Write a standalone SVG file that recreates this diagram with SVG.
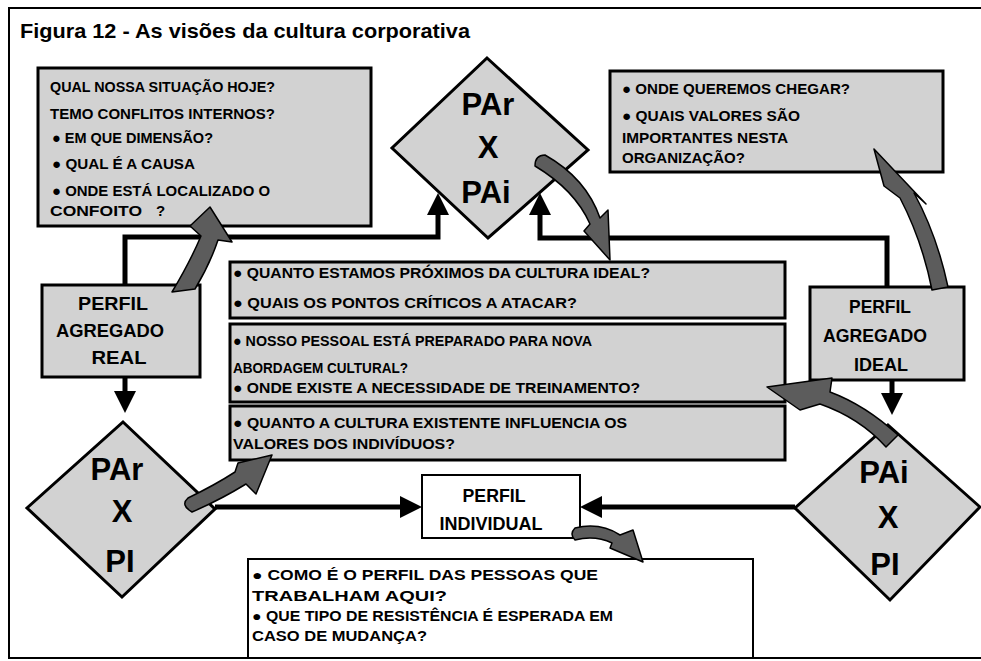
<svg xmlns="http://www.w3.org/2000/svg" width="981" height="661" viewBox="0 0 981 661">
<style>
.t{font-family:"Liberation Sans",Arial,"DejaVu Sans",sans-serif;font-weight:bold;fill:#000}
.q{font-size:15px}
.lb{font-size:18px;text-anchor:middle}
.dm{font-size:31px;text-anchor:middle}
.bx{fill:#d2d2d2;stroke:#000;stroke-width:3}
.wb{fill:#fff;stroke:#000;stroke-width:2}
.con{fill:none;stroke:#000;stroke-width:5;marker-end:url(#ah)}
.ga{fill:#5c5c5c;stroke:#000;stroke-width:1.5;stroke-linejoin:round}
</style>
<defs>
<marker id="ah" markerUnits="userSpaceOnUse" markerWidth="22" markerHeight="22" viewBox="0 0 22 22" refX="0" refY="11" orient="auto">
<path d="M0,0 L22,11 L0,22 z" fill="#000"/>
</marker>
</defs>
<rect width="981" height="661" fill="#fff"/>
<g id="frame" fill="none" stroke="#000" stroke-width="2">
<path d="M981,8 H9 V658 H981"/>
</g>
<text id="title" class="t" x="20" y="38" font-size="21" textLength="450" lengthAdjust="spacingAndGlyphs">Figura 12 - As visões da cultura corporativa</text>

<g id="box-situacao">
<rect class="bx" x="38" y="68" width="333" height="158"/>
<text class="t q" x="50" y="92" textLength="225" lengthAdjust="spacingAndGlyphs">QUAL NOSSA SITUAÇÃO HOJE?</text>
<text class="t q" x="50" y="119" textLength="225" lengthAdjust="spacingAndGlyphs">TEMO CONFLITOS INTERNOS?</text>
<text class="t q" x="52" y="143" textLength="161" lengthAdjust="spacingAndGlyphs">● EM QUE DIMENSÃO?</text>
<text class="t q" x="52" y="169" textLength="143" lengthAdjust="spacingAndGlyphs">● QUAL É A CAUSA</text>
<text class="t q" x="52" y="196" textLength="218" lengthAdjust="spacingAndGlyphs">● ONDE ESTÁ LOCALIZADO O</text>
<text class="t q" x="50" y="216"><tspan textLength="92" lengthAdjust="spacingAndGlyphs">CONFOITO</tspan><tspan x="156">?</tspan></text>
</g>

<g id="box-queremos">
<rect class="bx" x="610" y="71" width="333" height="101"/>
<text class="t q" x="622" y="94" textLength="228" lengthAdjust="spacingAndGlyphs">● ONDE QUEREMOS CHEGAR?</text>
<text class="t q" x="622" y="121" textLength="178" lengthAdjust="spacingAndGlyphs">● QUAIS VALORES SÃO</text>
<text class="t q" x="622" y="143" textLength="166" lengthAdjust="spacingAndGlyphs">IMPORTANTES NESTA</text>
<text class="t q" x="622" y="163" textLength="123" lengthAdjust="spacingAndGlyphs">ORGANIZAÇÃO?</text>
</g>

<g id="diamond-par-pai">
<polygon class="bx" points="487,58 588,150 488,238 392,148"/>
<text class="t dm" x="488" y="115">PAr</text>
<text class="t dm" x="488" y="158">X</text>
<text class="t dm" x="486" y="203">PAi</text>
</g>

<g id="box-cultura-ideal">
<rect class="bx" x="230" y="262" width="555" height="56"/>
<text class="t q" x="233" y="278" textLength="417" lengthAdjust="spacingAndGlyphs">● QUANTO ESTAMOS PRÓXIMOS DA CULTURA IDEAL?</text>
<text class="t q" x="233" y="308" textLength="344" lengthAdjust="spacingAndGlyphs">● QUAIS OS PONTOS CRÍTICOS A ATACAR?</text>
</g>

<g id="box-treinamento">
<rect class="bx" x="230" y="324" width="555" height="78"/>
<text class="t q" x="233" y="346" textLength="359" lengthAdjust="spacingAndGlyphs">● NOSSO PESSOAL ESTÁ PREPARADO PARA NOVA</text>
<text class="t q" x="233" y="373" textLength="175" lengthAdjust="spacingAndGlyphs">ABORDAGEM CULTURAL?</text>
<text class="t q" x="233" y="393" textLength="407" lengthAdjust="spacingAndGlyphs">● ONDE EXISTE A NECESSIDADE DE TREINAMENTO?</text>
</g>

<g id="box-influencia">
<rect class="bx" x="230" y="406" width="555" height="54"/>
<text class="t q" x="233" y="428" textLength="394" lengthAdjust="spacingAndGlyphs">● QUANTO A CULTURA EXISTENTE INFLUENCIA OS</text>
<text class="t q" x="233" y="449" textLength="222" lengthAdjust="spacingAndGlyphs">VALORES DOS INDIVÍDUOS?</text>
</g>

<g id="perfil-agregado-real">
<rect class="bx" x="42" y="285" width="158" height="92"/>
<text class="t lb" x="113" y="310" textLength="70" lengthAdjust="spacingAndGlyphs">PERFIL</text>
<text class="t lb" x="110" y="337" textLength="108" lengthAdjust="spacingAndGlyphs">AGREGADO</text>
<text class="t lb" x="119" y="364" textLength="55" lengthAdjust="spacingAndGlyphs">REAL</text>
</g>

<g id="perfil-agregado-ideal">
<rect class="bx" x="810" y="287" width="154" height="93"/>
<text class="t lb" x="880" y="313" textLength="62" lengthAdjust="spacingAndGlyphs">PERFIL</text>
<text class="t lb" x="875" y="342" textLength="104" lengthAdjust="spacingAndGlyphs">AGREGADO</text>
<text class="t lb" x="881" y="371" textLength="54" lengthAdjust="spacingAndGlyphs">IDEAL</text>
</g>

<g id="diamond-par-pi">
<polygon class="bx" points="123,422 215,509 122,597 27,508"/>
<text class="t dm" x="117" y="480">PAr</text>
<text class="t dm" x="122" y="522">X</text>
<text class="t dm" x="120" y="572">PI</text>
</g>

<g id="diamond-pai-pi">
<polygon class="bx" points="888,425 980,507 890,600 795,508"/>
<text class="t dm" x="884" y="483">PAi</text>
<text class="t dm" x="888" y="528">X</text>
<text class="t dm" x="885" y="575">PI</text>
</g>

<g id="perfil-individual">
<rect class="wb" x="422" y="475" width="158" height="63"/>
<text class="t lb" x="494" y="502" textLength="63" lengthAdjust="spacingAndGlyphs">PERFIL</text>
<text class="t lb" x="491" y="530" textLength="103" lengthAdjust="spacingAndGlyphs">INDIVIDUAL</text>
</g>

<g id="box-pessoas">
<rect class="wb" x="248" y="559" width="505" height="99"/>
<text class="t" font-size="14" x="252" y="580" textLength="346" lengthAdjust="spacingAndGlyphs">● COMO É O PERFIL DAS PESSOAS QUE</text>
<text class="t" font-size="14" x="252" y="601" textLength="195" lengthAdjust="spacingAndGlyphs">TRABALHAM AQUI?</text>
<text class="t" font-size="14" x="252" y="621" textLength="361" lengthAdjust="spacingAndGlyphs">● QUE TIPO DE RESISTÊNCIA É ESPERADA EM</text>
<text class="t" font-size="14" x="252" y="641" textLength="175" lengthAdjust="spacingAndGlyphs">CASO DE MUDANÇA?</text>
</g>

<g id="connectors">
<path class="con" d="M125,285 V237 H438 V215"/>
<path class="con" d="M887,287 V238 H540 V215"/>
<path class="con" d="M125,377 V391"/>
<path class="con" d="M892,380 V393"/>
<path class="con" d="M215,507 H400"/>
<path class="con" d="M795,507 H602"/>
<path class="ga" d="M172,292 Q190,262 201,236 L190,226 L210,207 L232,242 L218,240 Q210,264 195,289 Z"/>
<path class="ga" d="M535,166 Q575,190 590,224 L584,231 L610,260 L608,210 L600,218 Q586,178 545,155 Q535,155 535,166 Z"/>
<path class="ga" d="M932,290 Q922,240 900,198 L884,186 L874,149 L926,204 L914,193 Q937,235 948,287 Z"/>
<path class="ga" d="M886,447 Q860,418 820,404 L800,410 L767,387 L832,378 L830,392 Q865,405 898,435 Z"/>
<path class="ga" d="M192,512 Q220,500 246,484 L256,494 L272,455 L238,463 L235,472 Q215,485 188,498 Q180,505 192,512 Z"/>
<path class="ga" d="M575,540 Q595,535 612,543 L610,548 L643,562 L633,530 L620,535 Q600,522 575,528 Q569,534 575,540 Z"/>
</g>
</svg>
